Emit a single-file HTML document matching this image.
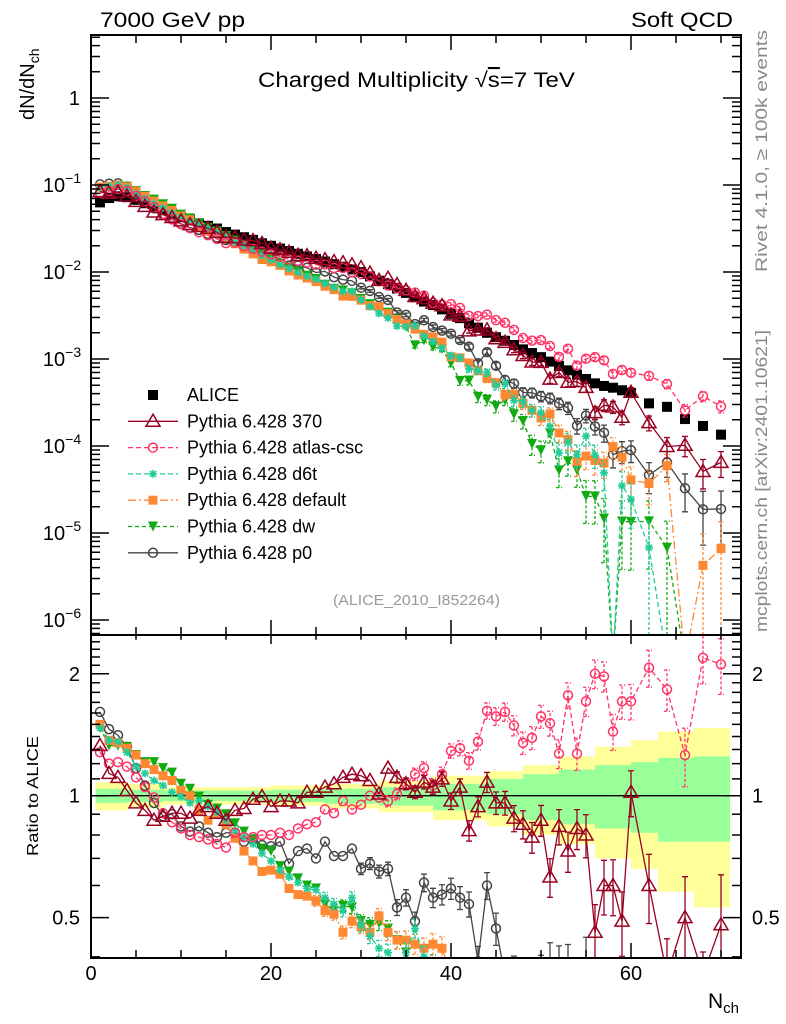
<!DOCTYPE html>
<html><head><meta charset="utf-8"><title>Charged Multiplicity</title>
<style>
html,body{margin:0;padding:0;background:#fff;overflow:hidden;}
svg{display:block;font-family:"Liberation Sans",sans-serif;}
</style></head>
<body>
<svg id="chart" width="786" height="1024" viewBox="0 0 786 1024" xmlns="http://www.w3.org/2000/svg">
<defs>
<clipPath id="clipMain"><rect x="91" y="35" width="650" height="600"/></clipPath>
<clipPath id="clipRatio"><rect x="91" y="635" width="650" height="323"/></clipPath>
</defs>
<text x="100" y="27" font-size="21" textLength="145" lengthAdjust="spacingAndGlyphs">7000 GeV pp</text>
<text x="631" y="27" font-size="21" textLength="102" lengthAdjust="spacingAndGlyphs">Soft QCD</text>
<text x="258" y="87" font-size="21" textLength="317" lengthAdjust="spacingAndGlyphs">Charged Multiplicity √<tspan text-decoration="overline">s</tspan>=7 TeV</text>
<text transform="translate(34,120) rotate(-90)" font-size="20">dN/dN<tspan font-size="14" dy="5">ch</tspan></text>
<text transform="translate(38,856) rotate(-90)" font-size="16" textLength="120" lengthAdjust="spacingAndGlyphs">Ratio to ALICE</text>
<text x="708" y="1008" font-size="21">N<tspan font-size="15" dy="5">ch</tspan></text>
<text transform="translate(767,272) rotate(-90)" font-size="17" fill="#888" textLength="242" lengthAdjust="spacingAndGlyphs">Rivet 4.1.0, ≥ 100k events</text>
<text transform="translate(767,632) rotate(-90)" font-size="17" fill="#888" textLength="302" lengthAdjust="spacingAndGlyphs">mcplots.cern.ch [arXiv:2401.10621]</text>
<text x="333" y="605" font-size="15" fill="#999" textLength="167" lengthAdjust="spacingAndGlyphs">(ALICE_2010_I852264)</text>
<g id="bands" clip-path="url(#clipRatio)"></g>
<g id="mainG" clip-path="url(#clipMain)"></g>
<g id="ratioG" clip-path="url(#clipRatio)"></g>
<g id="axes"></g>
<g id="legend"></g>
</svg>
<script>
const NS="http://www.w3.org/2000/svg";
const nBins=[1,2,3,4,5,6,7,8,9,10,11,12,13,14,15,16,17,18,19,20,21,22,23,24,25,26,27,28,29,30,31,32,33,34,35,36,37,38,39,40,41,42,43,44,45,46,47,48,49,50,51,52,53,54,55,56,57,58,59,60,62,64,66,68,70];
const aliceVals=[0.0631,0.0708,0.0741,0.0724,0.0676,0.0617,0.0562,0.0513,0.0468,0.0427,
0.0398,0.0363,0.0339,0.0316,0.0288,0.0269,0.0251,0.0234,0.0214,0.0200,
0.0186,0.0174,0.0162,0.0151,0.0141,0.0132,0.0123,0.0115,0.0107,0.0100,
0.00891,0.00794,0.00724,0.00646,0.00575,0.00513,0.00457,0.00417,0.00372,0.00331,
0.00295,0.00257,0.00229,0.00200,0.00178,0.00162,0.00145,0.00129,0.00117,0.00105,
9.33e-4,8.32e-4,7.41e-4,6.61e-4,5.89e-4,5.25e-4,4.90e-4,4.68e-4,4.37e-4,4.07e-4,
3.09e-4,2.82e-4,2.04e-4,1.70e-4,1.35e-4];
const ratio370=[1.33,1.135,1.11,1.03,0.96,0.92,0.87,0.89,0.905,0.905,
0.88,0.92,0.94,0.905,0.87,0.92,0.93,0.98,0.995,0.94,
0.97,0.97,0.96,1.02,1.02,1.05,1.07,1.11,1.13,1.12,
1.09,1.01,1.17,1.11,1.07,1.02,1.08,1.05,1.10,0.97,
1.05,0.82,0.94,1.08,0.96,0.96,0.88,0.85,0.79,0.87,
0.63,0.84,0.73,0.83,0.80,0.46,0.60,0.60,0.49,1.02,
0.60,0.35,0.50,0.30,0.48];
const ratioAtlas=[1.28,1.20,1.21,1.18,1.11,1.05,0.99,0.905,0.86,0.83,
0.80,0.79,0.78,0.76,0.745,0.81,0.79,0.79,0.80,0.80,
0.81,0.80,0.83,0.85,0.86,0.925,0.905,0.97,0.925,0.95,
1.0,0.99,0.97,1.01,1.07,1.13,1.17,1.06,1.13,1.29,
1.31,1.22,1.36,1.62,1.57,1.61,1.49,1.35,1.39,1.57,
1.51,1.27,1.77,1.27,1.71,2.0,1.97,1.44,1.71,1.71,
2.07,1.83,1.26,2.19,2.11];
const ratioD6t=[1.47,1.37,1.36,1.28,1.18,1.135,1.09,1.06,1.02,0.995,
0.96,0.97,0.94,0.91,0.87,0.82,0.79,0.76,0.72,0.69,
0.655,0.63,0.61,0.59,0.585,0.56,0.54,0.52,0.56,0.48,
0.45,0.42,0.41,0.37,0.41,0.47,0.40,0.38,0.36,0.33,
0.35,0.30,0.32,0.35,0.28,0.32,0.23,0.25,0.22,0.23,
0.18,0.10,0.15,0.12,0.22,0.15,0.10,0,0.08,0.06,
0.022,0,0,0,0];
const ratioDefault=[1.50,1.37,1.35,1.31,1.26,1.20,1.16,1.12,1.09,1.03,
1.0,0.92,0.87,0.905,0.85,0.785,0.73,0.69,0.65,0.655,
0.64,0.59,0.57,0.565,0.55,0.52,0.51,0.46,0.49,0.475,
0.46,0.505,0.46,0.44,0.44,0.43,0.42,0.43,0.42,0.32,
0.35,0.35,0.32,0.30,0.30,0.24,0.27,0.24,0.22,0.20,
0.25,0.17,0.16,0.10,0.13,0.13,0.13,0.21,0.17,0.10,
0.12,0.21,0,0.025,0.049];
const ratioDw=[1.47,1.33,1.33,1.32,1.26,1.21,1.21,1.17,1.14,1.07,
1.04,0.995,0.95,0.93,0.90,0.855,0.815,0.78,0.74,0.73,
0.67,0.65,0.625,0.60,0.59,0.54,0.52,0.535,0.53,0.49,
0.48,0.485,0.47,0.44,0.41,0.28,0.36,0.33,0.35,0.27,
0.19,0.22,0.16,0.17,0.16,0.21,0.16,0.15,0.09,0.085,
0.15,0.063,0.09,0.08,0.045,0.05,0.03,0,0.031,0.033,
0.044,0.024,0,0,0];
const ratioP0=[1.61,1.46,1.41,1.32,1.17,1.06,0.96,0.89,0.90,0.84,
0.815,0.84,0.81,0.79,0.81,0.81,0.77,0.78,0.755,0.75,
0.77,0.68,0.73,0.74,0.70,0.77,0.71,0.71,0.74,0.66,
0.68,0.65,0.66,0.53,0.56,0.49,0.61,0.56,0.57,0.59,
0.56,0.54,0.39,0.60,0.47,0.355,0.36,0.32,0.35,0.355,
0.38,0.37,0.37,0.26,0.38,0.32,0.29,0.17,0.20,0.22,
0.15,0.23,0.16,0.11,0.14];
const bandEdges=[0.5,4,8,14,20,26,32,38,44,48,52,56,60,63,67,71];
const yellowUp=[1.08,1.07,1.05,1.05,1.06,1.07,1.09,1.12,1.15,1.19,1.25,1.32,1.37,1.44,1.47];
const yellowDn=[0.92,0.93,0.95,0.95,0.945,0.93,0.91,0.87,0.84,0.80,0.76,0.70,0.66,0.58,0.53];
const greenUp=[1.04,1.035,1.03,1.03,1.035,1.04,1.05,1.07,1.10,1.13,1.16,1.19,1.21,1.24,1.25];
const greenDn=[0.96,0.965,0.97,0.97,0.965,0.955,0.945,0.92,0.90,0.87,0.85,0.83,0.81,0.77,0.77];
const xTicks=[0,20,40,60];
const mainYTicks=[1,0.1,0.01,0.001,1e-4,1e-5,1e-6];
const mainYLabels=["1","10","10","10","10","10","10"];
const mainYExp=["","−1","−2","−3","−4","−5","−6"];
const ratioTicks=[2,1,0.5];
const ratioLabels=["2","1","0.5"];

function xs(n){return 91+9*n;}
function ym(v){return v>0?Math.min(98-87*Math.log10(v),660):660;}
function yr(r){return r>0?Math.min(795.7-405*Math.log10(r),975):975;}
function mk(parent,tag,attrs){const e=document.createElementNS(NS,tag);for(const k in attrs)e.setAttribute(k,attrs[k]);parent.appendChild(e);return e;}

const models=[
 {key:"p370",label:"Pythia 6.428 370",r:ratio370,c:"#990022",dash:"",m:"tri"},
 {key:"atlas-csc",label:"Pythia 6.428 atlas-csc",r:ratioAtlas,c:"#ff3366",dash:"5,3",m:"circ"},
 {key:"d6t",label:"Pythia 6.428 d6t",r:ratioD6t,c:"#22cc99",dash:"5,3",m:"star"},
 {key:"default",label:"Pythia 6.428 default",r:ratioDefault,c:"#ff8833",dash:"8,3,2,3",m:"sq"},
 {key:"dw",label:"Pythia 6.428 dw",r:ratioDw,c:"#11aa11",dash:"4,3",m:"dtri"},
 {key:"p0",label:"Pythia 6.428 p0",r:ratioP0,c:"#444444",dash:"",m:"circ"}
];
function marker(g,type,x,y,c){
 let e;
 if(type==="tri"){e=mk(g,"path",{d:`M${x},${y-7}L${x+7},${y+5}L${x-7},${y+5}Z`,fill:"none",stroke:c,"stroke-width":1.5});}
 else if(type==="circ"){e=mk(g,"circle",{cx:x,cy:y,r:4.5,fill:"none",stroke:c,"stroke-width":1.5});}
 else if(type==="sq"){e=mk(g,"rect",{x:x-4.5,y:y-4.5,width:9,height:9,fill:c});}
 else if(type==="bsq"){e=mk(g,"rect",{x:x-5,y:y-5,width:10,height:10,fill:c});}
 else if(type==="dtri"){e=mk(g,"path",{d:`M${x-5},${y-5}L${x+5},${y-5}L${x},${y+5}Z`,fill:c});}
 else {e=mk(g,"path",{d:`M${x-4},${y}L${x+4},${y}M${x},${y-4}L${x},${y+4}M${x-3},${y-3}L${x+3},${y+3}M${x-3},${y+3}L${x+3},${y-3}`,stroke:c,"stroke-width":1.6});}
 return e;
}
const bandsG=document.getElementById("bands");
for(let i=0;i<yellowUp.length;i++){
 const x0=xs(bandEdges[i]),x1=xs(bandEdges[i+1]);
 const ry=mk(bandsG,"rect",{x:x0,y:yr(yellowUp[i]),width:x1-x0,height:yr(yellowDn[i])-yr(yellowUp[i]),fill:"#ffff99"});
 
 
}
for(let i=0;i<greenUp.length;i++){
 const x0=xs(bandEdges[i]),x1=xs(bandEdges[i+1]);
 const rg=mk(bandsG,"rect",{x:x0,y:yr(greenUp[i]),width:x1-x0,height:yr(greenDn[i])-yr(greenUp[i]),fill:"#99ff99"});
 
 
}
const unity=mk(bandsG,"line",{x1:91,x2:741,y1:yr(1),y2:yr(1),stroke:"#000","stroke-width":1.3});



const mainG=document.getElementById("mainG"),ratioG=document.getElementById("ratioG");
function drawSeries(panel,m,valFn,yfn){
 const g=mk(panel,"g",{});
 
 
 const pts=nBins.map((n,i)=>[xs(n),yfn(valFn(i))]);
 const pl=mk(g,"polyline",{points:pts.map(p=>p.join(",")).join(" "),fill:"none",stroke:m.c,"stroke-width":1.3,"stroke-dasharray":m.dash});
 
 
 nBins.forEach((n,i)=>{
  const v=valFn(i); if(!(v>0))return;
  const mv=aliceVals[i]*m.r[i]; const e=0.01*Math.sqrt(0.07/mv);
  if(e>0.03){
   const lo=v*(1-e),hi=v*(1+e),x=xs(n);
   const eb=mk(g,"path",{d:`M${x},${yfn(lo)}L${x},${yfn(hi)}M${x-3},${yfn(hi)}L${x+3},${yfn(hi)}M${x-3},${yfn(lo)}L${x+3},${yfn(lo)}`,stroke:m.c,"stroke-width":1.3,"stroke-dasharray":m.dash?"3,2":"",fill:"none"});
   
   
  }
  const mk1=marker(g,m.m,xs(n),yfn(v),m.c);
  
  
 });
}
const aG=mk(mainG,"g",{});


nBins.forEach((n,i)=>{
 const p=marker(aG,"bsq",xs(n),ym(aliceVals[i]),"#000");
 
 
});
for(let k=models.length-1;k>=0;k--){
 const m=models[k];
 drawSeries(mainG,m,i=>aliceVals[i]*m.r[i],ym);
 drawSeries(ratioG,m,i=>m.r[i],yr);
}

const ax=document.getElementById("axes");
function frame(y0,y1,name){
 const r=mk(ax,"rect",{x:91,y:y0,width:650,height:y1-y0,fill:"none",stroke:"#000","stroke-width":2});
 
 
}
frame(35,635,'main-plot-frame');
frame(635,958,'ratio-plot-frame');
let tp="";
for(let n=0;n<=72;n+=5){
 const maj=xTicks.indexOf(n)>=0, L=maj?15:8, x=xs(n);
 tp+=`M${x},35v${L}M${x},635v${-L}M${x},635v${L*0.6}M${x},958v${-L}`;
}
for(let d=-7;d<=1;d++){
 for(let k=1;k<=9;k++){
  const v=k*Math.pow(10,d), y=98-87*Math.log10(v); if(y<35||y>635)continue;
  const L=k===1?18:9;
  tp+=`M91,${y}h${L}M741,${y}h${-L}`;
 }
}
for(let k=3;k<=25;k++){
 const v=k/10,y=795.7-405*Math.log10(v); if(y<635||y>958)continue;
 const L=(k===5||k===10||k===20)?18:9;
 tp+=`M91,${y}h${L}M741,${y}h${-L}`;
}
const ticks=mk(ax,"path",{d:tp,stroke:"#000","stroke-width":1.5,fill:"none"});


xTicks.forEach(n=>{
 const t=mk(ax,"text",{x:xs(n),y:980,"font-size":20,"text-anchor":"middle"});
 t.textContent=String(n);
 
 
});
mainYTicks.forEach((v,i)=>{
 const t=mk(ax,"text",{x:mainYExp[i]?62:80,y:ym(v)+7,"font-size":20,"text-anchor":mainYExp[i]?"middle":"end"});
 t.textContent=mainYLabels[i];
 if(mainYExp[i]){const s=mk(t,"tspan",{"font-size":14,dy:-9});s.textContent=mainYExp[i];}
 
 
});
ratioTicks.forEach((v,i)=>{
 const t=mk(ax,"text",{x:80,y:yr(v)+7,"font-size":20,"text-anchor":"end"});
 t.textContent=ratioLabels[i];
 
 
 const t2=mk(ax,"text",{x:752,y:yr(v)+7,"font-size":20});
 t2.textContent=ratioLabels[i];
 
 
});

const lg=document.getElementById("legend");
const le=[{label:"ALICE",c:"#000",m:"bsq",dash:null,key:"alice"}].concat(models);
le.forEach((m,i)=>{
 const y=395+i*26.3;
 const g=mk(lg,"g",{});
 
 
 if(m.dash!==null){mk(g,"line",{x1:128,x2:178,y1:y,y2:y,stroke:m.c,"stroke-width":1.3,"stroke-dasharray":m.dash});}
 if(m.m==="bsq")mk(g,"rect",{x:148,y:y-5,width:10,height:10,fill:"#000"});
 else marker(g,m.m,153,y,m.c);
 const t=mk(g,"text",{x:187,y:y+6,"font-size":18});
 t.textContent=m.label;
});
</script>
</body></html>
